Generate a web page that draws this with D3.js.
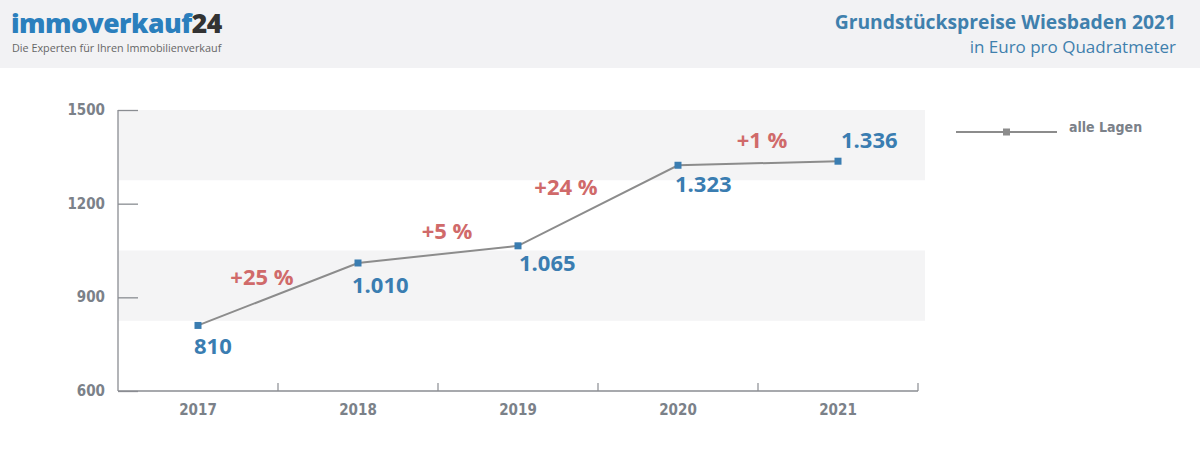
<!DOCTYPE html>
<html>
<head>
<meta charset="utf-8">
<script src="https://cdn.jsdelivr.net/npm/d3@7"></script>
<style>
  body { margin: 0; background: #fff; }
  svg { display: block; }
</style>
</head>
<body>
<div id="chart"></div>
<script>
// data
var years = ["2017", "2018", "2019", "2020", "2021"];
var prices = [810, 1010, 1065, 1323, 1336];
var priceLabels = ["810", "1.010", "1.065", "1.323", "1.336"];
var changeLabels = ["+25 %", "+5 %", "+24 %", "+1 %"];
var yTicks = [600, 900, 1200, 1500];
var bands = [[825, 1050], [1275, 1500]];

var outerWidth = 1200, outerHeight = 463;
var margin = {top: 110, right: 282, bottom: 72, left: 118},
    width = outerWidth - margin.left - margin.right,
    height = outerHeight - margin.top - margin.bottom;

var blue = "#3a7db1", red = "#d06a6a", grey = "#7b8189";

var root = d3.select("#chart").append("svg")
    .attr("width", outerWidth)
    .attr("height", outerHeight);

// header band
root.append("rect")
    .attr("width", outerWidth)
    .attr("height", 68)
    .attr("fill", "#f2f2f4");

var logo = root.append("text")
    .attr("x", 11).attr("y", 33)
    .style("font-family", "'Open Sans', sans-serif")
    .style("font-weight", 800)
    .style("font-size", "26.5px")
    .style("letter-spacing", "-0.5px");
logo.append("tspan").attr("fill", "#2b7fbd").text("immoverkauf");
logo.append("tspan").attr("fill", "#333").text("24");

root.append("text")
    .attr("x", 12).attr("y", 52)
    .attr("fill", "#666")
    .style("font-family", "'Open Sans', sans-serif")
    .style("font-size", "10.8px")
    .text("Die Experten für Ihren Immobilienverkauf");

root.append("text")
    .attr("x", 1176).attr("y", 29)
    .attr("text-anchor", "end")
    .attr("fill", "#3f80ad")
    .style("font-family", "'Open Sans', sans-serif")
    .style("font-weight", 700)
    .style("font-size", "19.3px")
    .text("Grundstückspreise Wiesbaden 2021");

root.append("text")
    .attr("x", 1176).attr("y", 53)
    .attr("text-anchor", "end")
    .attr("fill", "#3f80ad")
    .style("font-family", "'Open Sans', sans-serif")
    .style("font-size", "17px")
    .text("in Euro pro Quadratmeter");

var svg = root.append("g")
    .attr("transform", "translate(" + margin.left + "," + margin.top + ")");

var x = d3.scaleBand().domain(years).range([0, width]);
var y = d3.scaleLinear().domain([600, 1500]).range([height, 0]);

// grey bands
svg.selectAll("rect.band")
    .data(bands)
  .enter().append("rect")
    .attr("class", "band")
    .attr("x", 0)
    .attr("y", function(d) { return y(d[1]); })
    .attr("width", width + 7)
    .attr("height", function(d) { return y(d[0]) - y(d[1]); })
    .attr("fill", "#f4f4f5");

// y axis
var yAxis = svg.append("g")
    .call(d3.axisRight(y).tickValues(yTicks).tickSize(20).tickFormat(""));
yAxis.select(".domain").attr("d", "M0," + height + "V0");
yAxis.selectAll("path, line").attr("stroke", "#8a8d92").attr("stroke-width", 1.3);

svg.selectAll("text.ylab")
    .data(yTicks)
  .enter().append("text")
    .attr("class", "ylab")
    .attr("x", -13)
    .attr("y", function(d) { return y(d) + 5; })
    .attr("text-anchor", "end")
    .attr("fill", grey)
    .style("font-family", "'DejaVu Sans Condensed', sans-serif")
    .style("font-weight", 700)
    .style("font-size", "15px")
    .text(function(d) { return d; });

// x axis
var xAxis = svg.append("g")
    .attr("transform", "translate(0," + height + ")");
xAxis.append("line")
    .attr("x1", 0).attr("x2", width)
    .attr("stroke", "#8a8d92").attr("stroke-width", 1.3);
xAxis.selectAll("line.tick")
    .data(years)
  .enter().append("line")
    .attr("class", "tick")
    .attr("x1", function(d) { return x(d) + x.bandwidth(); })
    .attr("x2", function(d) { return x(d) + x.bandwidth(); })
    .attr("y1", 0).attr("y2", -8)
    .attr("stroke", "#8a8d92").attr("stroke-width", 1.2);
xAxis.selectAll("text")
    .data(years)
  .enter().append("text")
    .attr("x", function(d) { return x(d) + x.bandwidth() / 2; })
    .attr("y", 24)
    .attr("text-anchor", "middle")
    .attr("fill", grey)
    .style("font-family", "'DejaVu Sans Condensed', sans-serif")
    .style("font-weight", 700)
    .style("font-size", "15px")
    .text(function(d) { return d; });

// line
var cx = function(d, i) { return x(years[i]) + x.bandwidth() / 2; };
var line = d3.line()
    .x(function(d, i) { return cx(d, i); })
    .y(function(d) { return y(d); });

svg.append("path")
    .datum(prices)
    .attr("d", line)
    .attr("fill", "none")
    .attr("stroke", "#8c8c8c")
    .attr("stroke-width", 2);

svg.selectAll("rect.pt")
    .data(prices)
  .enter().append("rect")
    .attr("class", "pt")
    .attr("x", function(d, i) { return cx(d, i) - 3.5; })
    .attr("y", function(d) { return y(d) - 3.5; })
    .attr("width", 7).attr("height", 7)
    .attr("fill", blue);

// value labels
var labelOff = [[-4, 29], [-6, 30], [1, 25], [-3, 27], [3, -13]];
svg.selectAll("text.val")
    .data(prices)
  .enter().append("text")
    .attr("class", "val")
    .attr("x", function(d, i) { return cx(d, i) + labelOff[i][0]; })
    .attr("y", function(d, i) { return y(d) + labelOff[i][1]; })
    .attr("fill", blue)
    .style("font-family", "'Open Sans', sans-serif")
    .style("font-weight", 700)
    .style("font-size", "22px")
    .text(function(d, i) { return priceLabels[i]; });

// change labels between points
var changeOff = [[-16, -9], [9, -15], [-32, -11], [4, -15]];
svg.selectAll("text.chg")
    .data(changeLabels)
  .enter().append("text")
    .attr("class", "chg")
    .attr("x", function(d, i) { return x(years[i]) + x.bandwidth() + changeOff[i][0]; })
    .attr("y", function(d, i) { return (y(prices[i]) + y(prices[i + 1])) / 2 + changeOff[i][1]; })
    .attr("text-anchor", "middle")
    .attr("fill", red)
    .style("font-family", "'Open Sans', sans-serif")
    .style("font-weight", 700)
    .style("font-size", "22px")
    .text(function(d) { return d; });

// legend
var legend = root.append("g").attr("transform", "translate(956,132)");
legend.append("line")
    .attr("x1", 0).attr("x2", 101)
    .attr("stroke", "#8c8c8c").attr("stroke-width", 2);
legend.append("rect")
    .attr("x", 47).attr("y", -3.5)
    .attr("width", 7).attr("height", 7)
    .attr("fill", "#8c8c8c");
legend.append("text")
    .attr("x", 113).attr("y", 0)
    .attr("fill", grey)
    .style("font-family", "'DejaVu Sans Condensed', sans-serif")
    .style("font-weight", 700)
    .style("font-size", "14px")
    .text("alle Lagen");
</script>
</body>
</html>
